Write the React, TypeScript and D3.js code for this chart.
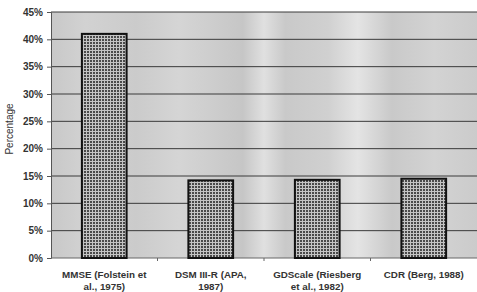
import React, { useEffect, useRef } from 'react';
import * as d3 from "d3";

// chart data
const categories = ["MMSE (Folstein et|al., 1975)", "DSM III-R (APA,|1987)", "GDScale (Riesberg|et al., 1982)", "CDR (Berg, 1988)"];
const values = [41, 14.2, 14.3, 14.5];
const yTicks = [0, 5, 10, 15, 20, 25, 30, 35, 40, 45];

const W = 477, H = 292;
const margin = { top: 12, right: 0, bottom: 34, left: 51 };
const font = "Arial, 'Liberation Sans', sans-serif";

export default function App() {
    const ref = useRef<SVGSVGElement>(null);

    useEffect(() => {
        const svg = d3.select(ref.current).html("")
            .attr("width", W).attr("height", H)
            .style("display", "block").style("background", "#fff");
        const width = W - margin.left - margin.right;
        const height = H - margin.top - margin.bottom;

        const defs = svg.append("defs");
        // scanned-looking grey background with lighter vertical bands
        const grad = defs.append("linearGradient").attr("id", "bg").attr("x1", 0).attr("x2", 1).attr("y1", 0).attr("y2", 0);
        const stops = [[0, "#c8c8c8"], [0.08, "#d2d2d2"], [0.2, "#cbcbcb"], [0.3, "#d5d5d5"], [0.45, "#c6c6c6"],
            [0.5, "#e0e0e0"], [0.55, "#c9c9c9"], [0.65, "#d0d0d0"], [0.72, "#e4e4e4"], [0.8, "#c9c9c9"], [0.9, "#d3d3d3"], [1, "#cbcbcb"]];
        stops.forEach(([o, c]) => grad.append("stop").attr("offset", o as number).attr("stop-color", c as string));

        // crosshatch for the bars
        const pat = defs.append("pattern").attr("id", "hatch").attr("width", 3).attr("height", 3).attr("patternUnits", "userSpaceOnUse");
        pat.append("rect").attr("width", 3).attr("height", 3).attr("fill", "#c4c4c4");
        pat.append("rect").attr("width", 2).attr("height", 2).attr("fill", "#4a4a4a");

        const g = svg.append("g").attr("transform", "translate(" + margin.left + "," + margin.top + ")");

        const x = d3.scaleBand().domain(categories).range([0, width]).paddingInner(0.58).paddingOuter(0.29);
        const y = d3.scaleLinear().domain([0, 45]).range([height, 0]);

        g.append("rect").attr("width", width).attr("height", height).attr("fill", "url(#bg)");

        // gridlines
        g.selectAll(".grid").data(yTicks.slice(1)).enter().append("line")
            .attr("x1", 0).attr("x2", width)
            .attr("y1", d => y(d)).attr("y2", d => y(d))
            .attr("stroke", "#3a3a3a").attr("stroke-width", 1);

        // y axis
        const yAxis = g.append("g").call(d3.axisLeft(y).tickValues(yTicks).tickSize(4).tickPadding(4).tickFormat(d => d + "%"));
        yAxis.select(".domain").attr("stroke", "#555");
        yAxis.selectAll("line").attr("stroke", "#555");
        yAxis.selectAll("text").attr("font-family", font)
            .attr("font-size", 10).attr("font-weight", "bold").attr("fill", "#333");

        // x axis line + ticks between categories
        g.append("line").attr("x1", 0).attr("x2", width).attr("y1", height).attr("y2", height).attr("stroke", "#666");
        const step = x.step();
        g.selectAll(".xt").data(d3.range(1, categories.length)).enter().append("line")
            .attr("x1", d => d * step).attr("x2", d => d * step)
            .attr("y1", height).attr("y2", height + 3).attr("stroke", "#666");

        // bars
        g.selectAll(".bar").data(values).enter().append("rect")
            .attr("x", (d, i) => x(categories[i]) as number)
            .attr("y", d => y(d))
            .attr("width", x.bandwidth())
            .attr("height", d => height - y(d))
            .attr("fill", "url(#hatch)")
            .attr("stroke", "#111").attr("stroke-width", 2);

        // category labels (two lines)
        const lbl = g.selectAll(".lbl").data(categories).enter().append("text")
            .attr("transform", d => "translate(" + ((x(d) as number) + x.bandwidth() / 2) + "," + (height + 20) + ")")
            .attr("text-anchor", "middle")
            .attr("font-family", font)
            .attr("font-size", 9.8).attr("font-weight", "bold").attr("fill", "#333");
        lbl.each(function (d) {
            const t = d3.select(this);
            d.split("|").forEach((s, i) => t.append("tspan").attr("x", 0).attr("dy", i ? 11.5 : 0).text(s));
        });

        // y title
        svg.append("text")
            .attr("transform", "translate(13,129) rotate(-90)")
            .attr("text-anchor", "middle")
            .attr("font-family", font)
            .attr("font-size", 10).attr("fill", "#333")
            .text("Percentage");
    }, []);

    return <svg ref={ref} style={{ position: "absolute", left: 0, top: 0 }}></svg>;
}
